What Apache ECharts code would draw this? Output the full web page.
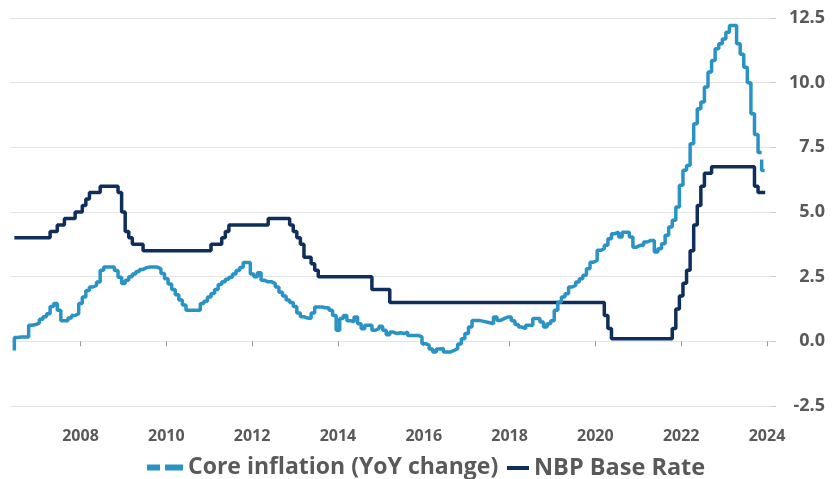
<!DOCTYPE html>
<html><head><meta charset="utf-8">
<script src="https://cdn.jsdelivr.net/npm/echarts@6/dist/echarts.min.js"></script>
<style>html,body{margin:0;padding:0;background:#fff}#c{width:837px;height:479px}</style>
</head><body><div id="c"></div>
<script>
// Monthly observations, first one = June 2006
const startYear = 2006, startMonth = 6;

const coreInflation = [
  -0.35, 0.15, 0.17, 0.17, 0.17, 0.62, 0.65,                    // 2006 Jun-Dec
  0.7, 0.85, 0.95, 1.07, 1.35, 1.46, 1.2, 0.8, 0.8, 0.9, 1.0, 1.07, // 2007
  1.46, 1.71, 1.97, 2.1, 2.16, 2.29, 2.75, 2.87, 2.87, 2.87, 2.74, 2.48, // 2008
  2.24, 2.36, 2.5, 2.6, 2.7, 2.78, 2.85, 2.87, 2.87, 2.87, 2.8, 2.62,  // 2009
  2.42, 2.22, 2.0, 1.8, 1.6, 1.4, 1.2, 1.2, 1.2, 1.2, 1.46, 1.55,      // 2010
  1.71, 1.85, 2.0, 2.2, 2.3, 2.4, 2.48, 2.6, 2.74, 2.85, 3.05, 3.05,   // 2011
  2.6, 2.5, 2.65, 2.36, 2.3, 2.3, 2.23, 2.1, 1.9, 1.75, 1.6, 1.5,      // 2012
  1.35, 1.1, 0.95, 0.9, 0.88, 1.1, 1.33, 1.33, 1.3, 1.3, 1.2, 1.0,     // 2013
  0.43, 0.88, 1.0, 0.8, 0.75, 0.94, 0.68, 0.49, 0.62, 0.62, 0.43, 0.5, // 2014
  0.58, 0.43, 0.25, 0.36, 0.3, 0.33, 0.3, 0.36, 0.23, 0.23, 0.23, 0.17, // 2015
  -0.09, -0.15, -0.3, -0.41, -0.3, -0.28, -0.41, -0.41, -0.35, -0.28, -0.1, 0.1, // 2016
  0.3, 0.55, 0.81, 0.81, 0.78, 0.75, 0.72, 0.68, 0.94, 0.81, 0.88, 0.94, // 2017
  0.94, 0.8, 0.65, 0.55, 0.49, 0.62, 0.62, 0.88, 0.88, 0.75, 0.55, 0.68, // 2018
  0.8, 1.2, 1.52, 1.71, 1.84, 2.1, 2.16, 2.29, 2.42, 2.55, 2.81, 3.06,  // 2019
  3.13, 3.52, 3.58, 3.71, 3.97, 4.16, 4.22, 4.03, 4.22, 4.22, 4.03, 3.64, // 2020
  3.71, 3.71, 3.84, 3.9, 3.9, 3.45, 3.58, 3.77, 4.1, 4.42, 4.68, 5.19,  // 2021
  6.03, 6.61, 6.8, 7.64, 8.41, 8.99, 9.25, 9.83, 10.41, 10.86, 11.31, 11.5, // 2022
  11.69, 11.95, 12.21, 12.21, 11.5, 11.1, 10.6, 10.0, 8.8, 8.0, 7.3, 6.6   // 2023
];

const nbpBaseRate = [
  4.0, 4.0, 4.0, 4.0, 4.0, 4.0, 4.0,                                   // 2006 Jun-Dec
  4.0, 4.0, 4.0, 4.25, 4.25, 4.5, 4.5, 4.75, 4.75, 4.75, 5.0, 5.0,     // 2007
  5.25, 5.5, 5.75, 5.75, 5.75, 6.0, 6.0, 6.0, 6.0, 6.0, 5.75, 5.0,     // 2008
  4.25, 4.0, 3.75, 3.75, 3.75, 3.5, 3.5, 3.5, 3.5, 3.5, 3.5, 3.5,      // 2009
  3.5, 3.5, 3.5, 3.5, 3.5, 3.5, 3.5, 3.5, 3.5, 3.5, 3.5, 3.5,          // 2010
  3.75, 3.75, 3.75, 4.0, 4.25, 4.5, 4.5, 4.5, 4.5, 4.5, 4.5, 4.5,      // 2011
  4.5, 4.5, 4.5, 4.5, 4.75, 4.75, 4.75, 4.75, 4.75, 4.75, 4.5, 4.25,   // 2012
  4.0, 3.75, 3.25, 3.25, 3.0, 2.75, 2.5, 2.5, 2.5, 2.5, 2.5, 2.5,      // 2013
  2.5, 2.5, 2.5, 2.5, 2.5, 2.5, 2.5, 2.5, 2.5, 2.0, 2.0, 2.0,          // 2014
  2.0, 2.0, 1.5, 1.5, 1.5, 1.5, 1.5, 1.5, 1.5, 1.5, 1.5, 1.5,          // 2015
  1.5, 1.5, 1.5, 1.5, 1.5, 1.5, 1.5, 1.5, 1.5, 1.5, 1.5, 1.5,          // 2016
  1.5, 1.5, 1.5, 1.5, 1.5, 1.5, 1.5, 1.5, 1.5, 1.5, 1.5, 1.5,          // 2017
  1.5, 1.5, 1.5, 1.5, 1.5, 1.5, 1.5, 1.5, 1.5, 1.5, 1.5, 1.5,          // 2018
  1.5, 1.5, 1.5, 1.5, 1.5, 1.5, 1.5, 1.5, 1.5, 1.5, 1.5, 1.5,          // 2019
  1.5, 1.5, 1.0, 0.5, 0.1, 0.1, 0.1, 0.1, 0.1, 0.1, 0.1, 0.1,          // 2020
  0.1, 0.1, 0.1, 0.1, 0.1, 0.1, 0.1, 0.1, 0.1, 0.5, 1.25, 1.75,        // 2021
  2.25, 2.75, 3.5, 4.5, 5.25, 6.0, 6.5, 6.5, 6.75, 6.75, 6.75, 6.75,   // 2022
  6.75, 6.75, 6.75, 6.75, 6.75, 6.75, 6.75, 6.75, 6.0, 5.75, 5.75, 5.75 // 2023
];

const xTickYears = [2008, 2010, 2012, 2014, 2016, 2018, 2020, 2022, 2024];
const yMin = -2.5, yMax = 12.5, yStep = 2.5;
const coreName = 'Core inflation (YoY change)';
const nbpName = 'NBP Base Rate';

const coreColor = '#2a93c6';
const nbpColor = '#0f2e5b';
const textColor = '#595959';
const font = 'Open Sans';

function monthPos(i) { return startYear + (startMonth - 1 + i) / 12 + 1 / 24; }
const coreData = coreInflation.map((v, i) => [monthPos(i), v]);
const nbpData = nbpBaseRate.map((v, i) => [monthPos(i), v]);
const n = coreData.length;
const coreSolid = coreData.slice(0, n - 1);
const coreDashed = coreData.slice(n - 2);

const chart = echarts.init(document.getElementById('c'), null, { renderer: 'canvas' });
chart.setOption({
  animation: false,
  backgroundColor: '#fff',
  grid: { left: 10, right: 67, top: 18, bottom: 73, containLabel: false },
  xAxis: {
    type: 'value', min: 2006.357, max: 2024.07,
    offset: 14,
    axisLine: { show: false },
    axisTick: { show: true, length: 5, lineStyle: { color: '#999' }, customValues: xTickYears },
    axisLabel: { customValues: xTickYears, formatter: v => String(Math.round(v)), color: textColor,
      fontFamily: font, fontWeight: 'bold', fontSize: 16, margin: 8 },
    splitLine: { show: false }
  },
  yAxis: {
    type: 'value', position: 'right', min: yMin, max: yMax, interval: yStep,
    axisLine: { show: false },
    axisTick: { show: true, length: 6, lineStyle: { color: '#cccccc' } },
    axisLabel: { formatter: v => v.toFixed(1), color: textColor, fontFamily: font, fontWeight: 'bold',
      fontSize: 18, align: 'right', margin: 55 },
    splitLine: { show: true, lineStyle: { color: '#e4e4e4', width: 1 } }
  },
  legend: [
    { data: [coreName], left: 147, top: 456, itemWidth: 36, itemHeight: 6, padding: 0,
      icon: 'path://M0,0H13V6H0Z M18,0H36V6H18Z',
      textStyle: { color: textColor, fontFamily: font, fontWeight: 'bold', fontSize: 23 } },
    { data: [nbpName], left: 507, top: 456, itemWidth: 22, itemHeight: 4, padding: 0, icon: 'rect',
      textStyle: { color: textColor, fontFamily: font, fontWeight: 'bold', fontSize: 23.5 } }
  ],
  series: [
    { name: nbpName, type: 'line', step: 'end', data: nbpData, showSymbol: false, symbol: 'none',
      color: nbpColor, lineStyle: { color: nbpColor, width: 3.5 } },
    { name: coreName, type: 'line', step: 'start', data: coreSolid, showSymbol: false, symbol: 'none',
      color: coreColor, lineStyle: { color: coreColor, width: 3.5 }, z: 3 },
    { name: coreName, type: 'line', step: 'start', data: coreDashed, showSymbol: false, symbol: 'none',
      color: coreColor, lineStyle: { color: coreColor, width: 3.5, type: [14, 7], dashOffset: 14 }, z: 3 }
  ]
});
</script></body></html>
